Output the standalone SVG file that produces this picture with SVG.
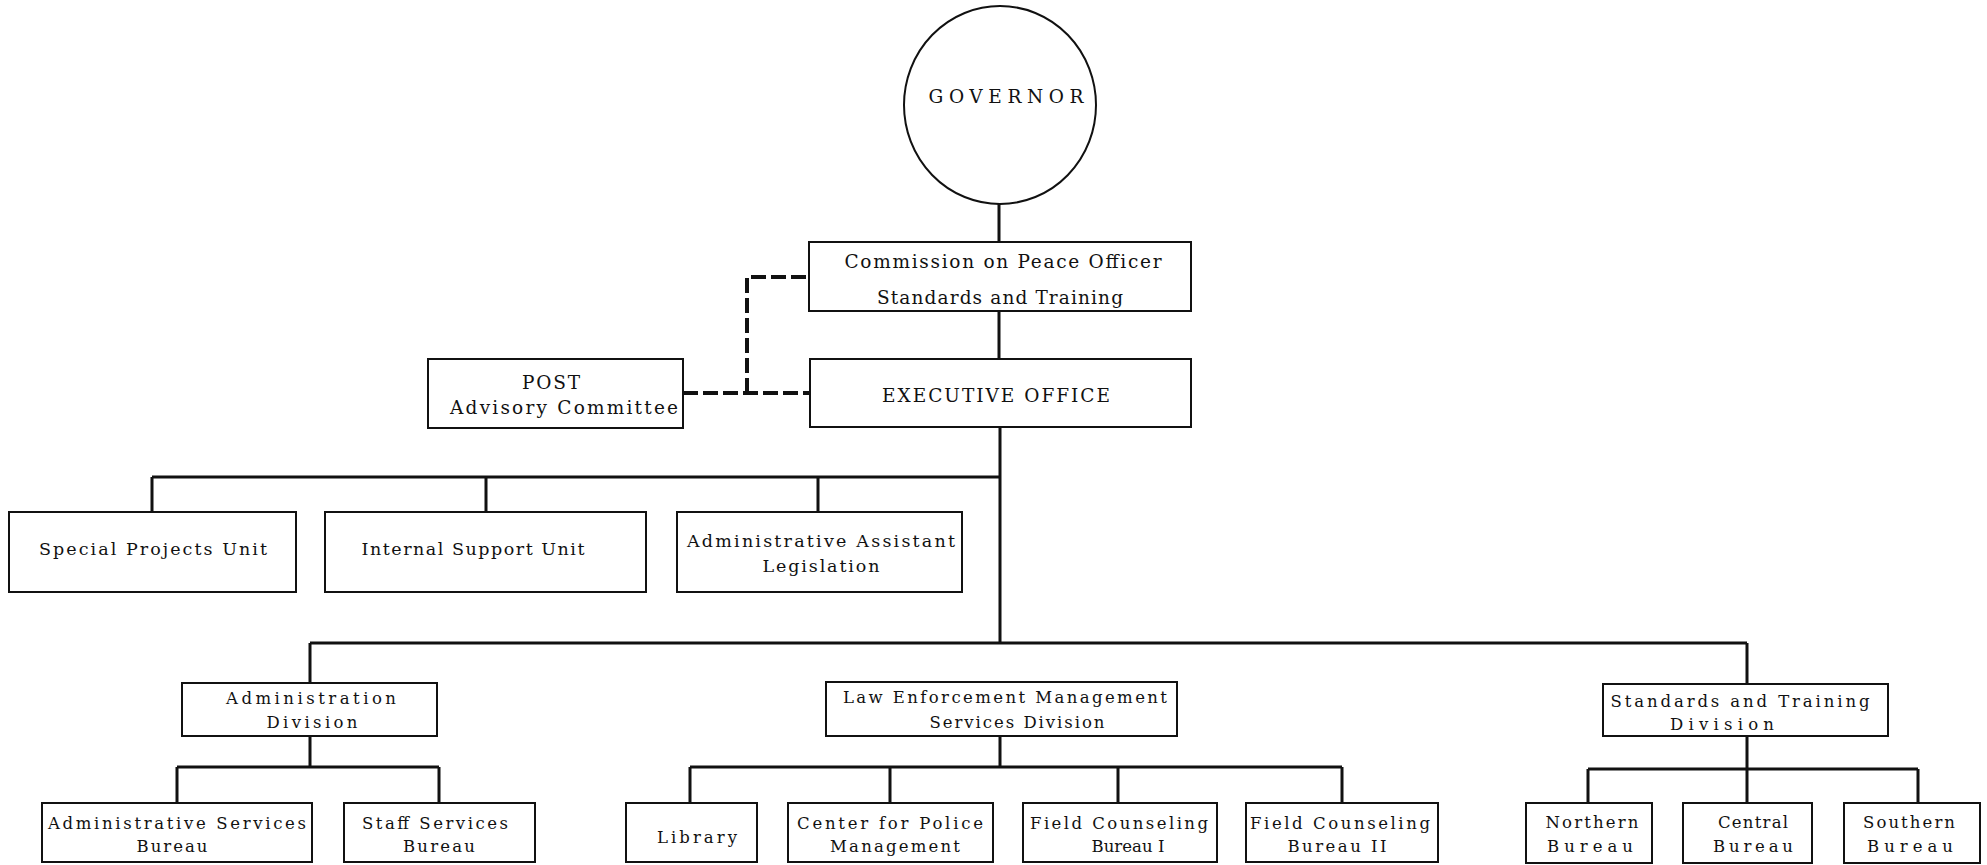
<svg xmlns="http://www.w3.org/2000/svg" width="1987" height="865" viewBox="0 0 1987 865">
<style>
.box{fill:#fff;stroke:#111;stroke-width:2}
.ln{fill:none;stroke:#111;stroke-width:3}
.dash{fill:none;stroke:#111;stroke-width:4;stroke-dasharray:15 5}
text{font-family:"DejaVu Serif","Liberation Serif",serif;fill:#111;text-anchor:middle}
.t1{font-size:18.5px}
.t2{font-size:17.5px}
.t3{font-size:16.5px}
</style>
<rect width="1987" height="865" fill="#fff"/>
<g id="connectors">
<path class="ln" d="M999 204V242M999 311V359M1000 427V643"/>
<path class="ln" d="M152 477H1000M152 477V512M486 477V512M818 477V512"/>
<path class="ln" d="M310 643H1747M310 643V683M1747 643V684"/>
<path class="ln" d="M310 736V767M177 767H439M177 767V803M439 767V803"/>
<path class="ln" d="M1000 736V767M690 767H1342M690 767V803M890 767V803M1118 767V803M1342 767V803"/>
<path class="ln" d="M1747 736V769M1588 769H1918M1588 769V803M1747 769V803M1918 769V803"/>
<path class="dash" d="M683 393H810M747 393V277H809"/>
</g>
<g id="governor">
<ellipse cx="1000" cy="105" rx="96" ry="99" fill="#fff" stroke="#111" stroke-width="2"/>
<text class="t1" x="1006" y="103" textLength="155" lengthAdjust="spacing">GOVERNOR</text>
</g>
<g id="commission">
<rect class="box" x="809" y="242" width="382" height="69"/>
<text class="t1" x="1003" y="268" textLength="317" lengthAdjust="spacing">Commission on Peace Officer</text>
<text class="t1" x="1000" y="304" textLength="246" lengthAdjust="spacing">Standards and Training</text>
</g>
<g id="executive">
<rect class="box" x="810" y="359" width="381" height="68"/>
<text class="t1" x="996" y="402" textLength="228" lengthAdjust="spacing">EXECUTIVE OFFICE</text>
</g>
<g id="post">
<rect class="box" x="428" y="359" width="255" height="69"/>
<text class="t1" x="551" y="389" textLength="58" lengthAdjust="spacing">POST</text>
<text class="t1" x="564" y="414" textLength="228" lengthAdjust="spacing">Advisory Committee</text>
</g>
<g id="special-projects">
<rect class="box" x="9" y="512" width="287" height="80"/>
<text class="t2" x="153" y="555" textLength="228" lengthAdjust="spacing">Special Projects Unit</text>
</g>
<g id="internal-support">
<rect class="box" x="325" y="512" width="321" height="80"/>
<text class="t2" x="473" y="555" textLength="223" lengthAdjust="spacing">Internal Support Unit</text>
</g>
<g id="admin-assistant">
<rect class="box" x="677" y="512" width="285" height="80"/>
<text class="t2" x="821" y="547" textLength="268" lengthAdjust="spacing">Administrative Assistant</text>
<text class="t2" x="821" y="572" textLength="117" lengthAdjust="spacing">Legislation</text>
</g>
<g id="admin-division">
<rect class="box" x="182" y="683" width="255" height="53"/>
<text class="t3" x="311" y="704" textLength="170" lengthAdjust="spacing">Administration</text>
<text class="t3" x="312" y="728" textLength="91" lengthAdjust="spacing">Division</text>
</g>
<g id="lems-division">
<rect class="box" x="826" y="682" width="351" height="54"/>
<text class="t3" x="1005" y="703" textLength="324" lengthAdjust="spacing">Law Enforcement Management</text>
<text class="t3" x="1017" y="728" textLength="175" lengthAdjust="spacing">Services Division</text>
</g>
<g id="st-division">
<rect class="box" x="1603" y="684" width="285" height="52"/>
<text class="t3" x="1740" y="707" textLength="259" lengthAdjust="spacing">Standards and Training</text>
<text class="t3" x="1722" y="730" textLength="104" lengthAdjust="spacing">Division</text>
</g>
<g id="admin-services-bureau">
<rect class="box" x="42" y="803" width="270" height="59"/>
<text class="t3" x="177" y="829" textLength="258" lengthAdjust="spacing">Administrative Services</text>
<text class="t3" x="172" y="852" textLength="71" lengthAdjust="spacing">Bureau</text>
</g>
<g id="staff-services-bureau">
<rect class="box" x="344" y="803" width="191" height="59"/>
<text class="t3" x="435" y="829" textLength="146" lengthAdjust="spacing">Staff Services</text>
<text class="t3" x="439" y="852" textLength="72" lengthAdjust="spacing">Bureau</text>
</g>
<g id="library">
<rect class="box" x="626" y="803" width="131" height="59"/>
<text class="t3" x="697" y="843" textLength="80" lengthAdjust="spacing">Library</text>
</g>
<g id="center-police-management">
<rect class="box" x="788" y="803" width="205" height="59"/>
<text class="t3" x="890" y="829" textLength="186" lengthAdjust="spacing">Center for Police</text>
<text class="t3" x="895" y="852" textLength="130" lengthAdjust="spacing">Management</text>
</g>
<g id="field-counseling-1">
<rect class="box" x="1023" y="803" width="194" height="59"/>
<text class="t3" x="1119" y="829" textLength="178" lengthAdjust="spacing">Field Counseling</text>
<text class="t3" x="1128" y="852" textLength="73" lengthAdjust="spacing">Bureau I</text>
</g>
<g id="field-counseling-2">
<rect class="box" x="1246" y="803" width="192" height="59"/>
<text class="t3" x="1340" y="829" textLength="180" lengthAdjust="spacing">Field Counseling</text>
<text class="t3" x="1337" y="852" textLength="99" lengthAdjust="spacing">Bureau II</text>
</g>
<g id="northern-bureau">
<rect class="box" x="1526" y="803" width="126" height="60"/>
<text class="t3" x="1592" y="828" textLength="93" lengthAdjust="spacing">Northern</text>
<text class="t3" x="1590" y="852" textLength="86" lengthAdjust="spacing">Bureau</text>
</g>
<g id="central-bureau">
<rect class="box" x="1683" y="803" width="129" height="60"/>
<text class="t3" x="1753" y="828" textLength="70" lengthAdjust="spacing">Central</text>
<text class="t3" x="1753" y="852" textLength="80" lengthAdjust="spacing">Bureau</text>
</g>
<g id="southern-bureau">
<rect class="box" x="1844" y="803" width="136" height="60"/>
<text class="t3" x="1909" y="828" textLength="92" lengthAdjust="spacing">Southern</text>
<text class="t3" x="1910" y="852" textLength="86" lengthAdjust="spacing">Bureau</text>
</g>
</svg>
